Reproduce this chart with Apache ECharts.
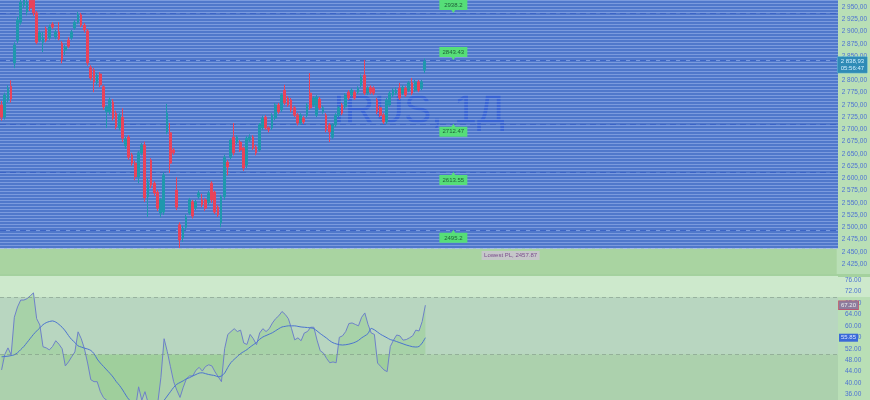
<!DOCTYPE html>
<html><head><meta charset="utf-8">
<script src="https://cdn.jsdelivr.net/npm/echarts@6/dist/echarts.min.js"></script>
<style>html,body{margin:0;padding:0;background:#b9dfb6}#c{width:870px;height:400px}</style>
</head><body><div id="c"></div><script>
const slotCount = 263;
const opens  = [2750,2725,2760,2788,2836,2882,2919,2954,2940,2964,2964,2938,2882,2878,2905,2887,2915,2889,2899,2876,2862,2882,2887,2907,2919,2934,2913,2901,2827,2821,2795,2813,2787,2736,2736,2756,2733,2703,2725,2666,2684,2648,2631,2603,2652,2668,2562,2637,2590,2572,2529,2531,2695,2693,2658,2576,2505,2478,2500,2529,2552,2539,2562,2556,2556,2550,2590,2572,2541,2509,2562,2633,2643,2684,2674,2674,2662,2627,2678,2684,2664,2658,2703,2725,2703,2703,2723,2750,2740,2780,2764,2760,2744,2729,2713,2723,2729,2774,2750,2729,2762,2736,2729,2709,2684,2709,2729,2750,2746,2776,2770,2776,2776,2790,2811,2774,2786,2784,2760,2744,2729,2715,2750,2770,2774,2784,2774,2784,2780,2795,2780,2797,2784,2821];
const closes = [2725,2770,2784,2762,2872,2923,2960,2968,2960,2948,2938,2878,2897,2887,2882,2909,2909,2899,2885,2842,2868,2870,2899,2919,2934,2913,2903,2836,2805,2797,2811,2791,2746,2746,2760,2723,2705,2729,2682,2680,2643,2631,2603,2652,2668,2560,2592,2586,2570,2539,2556,2607,2733,2631,2652,2541,2474,2498,2521,2556,2523,2552,2570,2546,2539,2570,2556,2531,2525,2562,2643,2623,2678,2652,2684,2658,2621,2682,2684,2662,2652,2709,2723,2703,2699,2729,2750,2736,2770,2754,2750,2740,2729,2713,2729,2715,2750,2744,2764,2766,2744,2744,2699,2695,2709,2729,2744,2733,2770,2764,2780,2764,2784,2807,2774,2784,2776,2774,2736,2729,2715,2760,2774,2780,2780,2764,2786,2770,2795,2774,2797,2780,2797,2838.93];
const highs  = [2758,2775,2790,2800,2878,2930,2968,2980,2966,2975,2972,2942,2902,2899,2910,2914,2919,2903,2919,2880,2872,2888,2903,2923,2940,2938,2917,2905,2831,2825,2815,2817,2790,2750,2765,2762,2738,2733,2743,2685,2688,2652,2636,2656,2672,2675,2600,2641,2594,2576,2560,2612,2752,2713,2662,2602,2510,2503,2526,2560,2556,2556,2575,2568,2560,2574,2594,2575,2545,2566,2648,2637,2682,2713,2688,2678,2665,2686,2690,2688,2668,2713,2728,2729,2706,2733,2754,2754,2774,2791,2768,2764,2748,2733,2733,2727,2754,2815,2768,2770,2766,2748,2733,2713,2713,2733,2748,2754,2774,2780,2784,2780,2788,2812,2842,2788,2790,2788,2764,2748,2733,2764,2778,2784,2786,2795,2790,2788,2799,2805,2801,2801,2801,2845];
const lows   = [2718,2720,2755,2755,2825,2876,2914,2948,2933,2942,2932,2874,2878,2858,2878,2883,2905,2884,2882,2835,2852,2866,2883,2903,2915,2909,2898,2830,2800,2776,2790,2786,2740,2703,2730,2718,2700,2698,2674,2660,2638,2626,2596,2590,2647,2552,2521,2580,2564,2533,2520,2525,2690,2611,2648,2535,2457.87,2470,2495,2525,2518,2535,2558,2541,2533,2545,2550,2527,2521,2500,2556,2606,2639,2647,2670,2654,2615,2621,2674,2658,2647,2654,2699,2699,2694,2699,2719,2732,2736,2750,2746,2735,2725,2708,2709,2711,2725,2740,2746,2725,2740,2732,2694,2674,2680,2705,2725,2729,2742,2760,2766,2760,2772,2786,2770,2770,2772,2770,2731,2725,2711,2711,2746,2766,2770,2760,2770,2766,2776,2770,2776,2776,2780,2815];
const rsiValues = [44.6,50,52.3,49.9,63,66.6,69,69,69.5,70.5,71.5,62.5,60.3,52.7,52.3,51.6,52.8,54.8,53.6,52,46,47.4,49.2,50.9,
  57.9,55.5,52,47,41.2,40.5,40.5,37,34.9,34,33,31,33,30,29,30,27,25,31,38.7,34,37,33,31,29,33,42,55.5,51,45.7,40.5,37.5,35,38.5,41.5,42.5,42.5,44.5,45.5,44.2,45.8,46.4,46,43.9,
  42.2,40.5,52,57,58,59,58,58.5,54,53.5,57,55.5,53.4,57.5,59,58,59,61,62.5,63.5,65,64,62.5,59,55.1,55.8,54.8,57.5,58,59.5,59.5,55,51.3,50.5,48.6,47.1,47.4,47.1,56,56.5,58,60.8,61,60.5,60,63,64.5,60.5,
  57.5,57,47,45.8,44.6,44,52.8,55,56.8,56.5,55,55.2,55.8,56.5,58.5,58.2,61.5,67.2];
const rsiMa = [49.2,49.3,49.4,49.6,49.9,50.6,51.7,52.8,54.2,55.6,57,58.2,59.3,60.4,61.1,61.5,61.7,61.3,60.5,59.5,58.2,56.6,55.2,54.2,
  53,52.6,52.2,51.9,51.4,50.3,48.4,47,45.8,44.6,43.4,42.1,40.5,39.2,37.6,35.8,34.2,33.2,32.5,32.2,32,31.8,31.6,31.5,31.6,32,32.8,34,35.5,37,38.5,39.6,40.2,40.8,41.5,41.9,42.5,43,43.5,43.6,43.3,43,42.8,42.6,
  42.2,42.5,43.5,45.5,47.2,48.3,49.3,50.3,51,51.7,52.6,53.4,54.2,55.3,56.1,56.6,57.1,57.6,58.3,59,59.6,59.8,60,60,60,59.8,59.6,59.5,59.4,59.3,59,58.2,57.3,56.5,55.7,54.8,54.1,53.7,53.4,53.3,53.4,53.6,53.9,54.3,54.9,55.8,56.5,57.3,
  59.1,58.6,57.8,57,56.4,55.8,55.2,54.9,54.5,54.1,53.7,53.3,53,52.7,52.6,52.8,54,55.85];
const rsiTicks = [36,40,44,48,52,56,60,64,68,72,76];
const levelPrices = [2937.7, 2841.7, 2711.3, 2613.1, 2494.7];
const levelTexts  = ['2938.2', '2843.43', '2712.47', '2613.55', '2495.2'];
const levelArrowDown = [true, true, false, false, false];
const lowestPL = 2457.87;
const lastPrice = 2838.93;
const countdown = '05:56:47';
const rsiLast = 67.20, rsiMaLast = 55.85;
const rsiUpper = 70, rsiMid = 50;
const watermark = 'IRUS, 1Д';

const fmtPrice = v => v.toFixed(2).replace('.', ',').replace(/\B(?=(\d{3})+(?!\d))/g, ' ');
const cats = Array.from({length: slotCount}, (_, i) => String(i));
const candles = opens.map((o, i) => [o, closes[i], lows[i], highs[i]]);
const FONT = 'Liberation Sans';
const axisBlue = '#4d72d3';
const NOLINE = {color: 'rgba(0,0,0,0)', width: 0};

const chart = echarts.init(document.getElementById('c'), null, {renderer: 'canvas'});
chart.setOption({
  animation: false,
  backgroundColor: '#b9dfb6',
  grid: [
    {left: 0, top: 0, width: 838, height: 276.2, show: true, backgroundColor: '#a9d4a1', borderWidth: 0, z: 0},
    {left: 0, top: 276, width: 838, bottom: 0, show: false},
    {left: 0, top: 0, width: 838, height: 248, show: true, backgroundColor: '#5078cb', borderWidth: 0, z: 1}
  ],
  xAxis: [
    {type: 'category', gridIndex: 0, data: cats, show: false, boundaryGap: true},
    {type: 'category', gridIndex: 1, data: cats, show: false, boundaryGap: true},
    {type: 'value', gridIndex: 2, min: 0, max: 1, show: false}
  ],
  yAxis: [
    {type: 'value', gridIndex: 0, position: 'right', min: 2400, max: 2964.3, interval: 25, z: 4,
     axisLine: {show: false}, axisTick: {show: false}, splitLine: {show: false},
     axisLabel: {showMinLabel: false, showMaxLabel: false, color: axisBlue, fontSize: 6.5, fontFamily: FONT, margin: 5, formatter: v => fmtPrice(v)}},
    {type: 'value', gridIndex: 1, position: 'right', min: 34.1, max: 77.4, z: 2,
     axisLine: {show: false}, axisTick: {show: false}, splitLine: {show: false},
     axisLabel: {customValues: rsiTicks, color: axisBlue, fontSize: 6.5, fontFamily: FONT, margin: 7, formatter: v => v.toFixed(2)}},
    {type: 'value', gridIndex: 2, min: 0, max: 83, interval: 1, z: 3,
     axisLine: {show: false}, axisTick: {show: false}, axisLabel: {show: false},
     splitLine: {show: true, lineStyle: {color: 'rgba(150,178,234,0.62)', width: 1}}}
  ],
  graphic: [
    {type: 'rect', shape: {x: 838, y: 276, width: 32, height: 21}, style: {fill: '#cde9cc'}, z: -1, silent: true},
    {type: 'rect', shape: {x: 0, y: 274, width: 870, height: 3}, style: {fill: '#a4d19e'}, z: 1, silent: true},
    {type: 'text', x: 419, y: 112, z: 2, silent: true,
     style: {text: watermark, fill: 'rgba(40,85,215,0.6)', fontSize: 41, fontFamily: FONT, align: 'center', verticalAlign: 'middle'}}
  ],
  series: [
    {type: 'line', xAxisIndex: 2, yAxisIndex: 2, data: [], silent: true},
    {type: 'candlestick', xAxisIndex: 0, yAxisIndex: 0, data: candles, barWidth: 2.2, z: 5, silent: true,
     itemStyle: {color: '#1f98ad', color0: '#e8435a', borderColor: '#1f98ad', borderColor0: '#e8435a', borderWidth: 1},
     markLine: {silent: true, symbol: ['none', 'none'], animation: false,
       data: levelPrices.map(p => ({yAxis: p, lineStyle: {color: '#3c64c6', type: [6, 4], width: 1}, label: {show: false}}))
         .concat([
           {yAxis: lowestPL, lineStyle: {color: '#a9bfe6', type: [4, 3], width: 1}, label: {show: false}},
           {yAxis: lastPrice, lineStyle: NOLINE, label: {show: true, position: 'end', distance: 1, offset: [0, 3.5],
             formatter: fmtPrice(lastPrice) + '\n' + countdown, backgroundColor: '#2f8bb6', borderColor: '#5fb3d6', borderWidth: 0.5,
             color: '#d2f0ff', fontSize: 6, fontFamily: FONT, lineHeight: 7, padding: [1, 3]}}
         ])},
     markPoint: {silent: true, animation: false,
       data: levelPrices.map((p, i) => ({
         coord: [142, p],
         symbol: levelArrowDown[i] ? 'path://M0,0L28,0L28,10L16,10L14,13L12,10L0,10Z' : 'path://M14,0L16,3L28,3L28,13L0,13L0,3L12,3Z',
         symbolSize: [28, 13],
         symbolOffset: [0, levelArrowDown[i] ? -6.5 : 6.5],
         itemStyle: {color: '#56de78'},
         label: {show: true, position: 'inside', formatter: levelTexts[i], color: '#1f5f38', fontSize: 6, fontFamily: FONT, offset: [0, levelArrowDown[i] ? -1.5 : 1.5]}
       })).concat([{
         coord: [160, lowestPL], symbol: 'rect', symbolSize: [58, 9], symbolOffset: [0, 7.5],
         itemStyle: {color: '#c5c7c9'},
         label: {show: true, position: 'inside', formatter: 'Lowest PL, ' + lowestPL, color: '#7b4d8c', fontSize: 6, fontFamily: FONT}
       }])}
    },
    {type: 'line', xAxisIndex: 1, yAxisIndex: 1, data: rsiValues, symbol: 'none', silent: true, z: 1,
     lineStyle: {opacity: 0},
     markArea: {silent: true, data: [
       [{yAxis: rsiUpper, itemStyle: {color: '#cde9cc'}}, {yAxis: 77.4}],
       [{yAxis: rsiMid, itemStyle: {color: '#b8d6c0'}}, {yAxis: rsiUpper}],
       [{yAxis: 34.1, itemStyle: {color: '#acd1ad'}}, {yAxis: rsiMid}]
     ]}},
    {type: 'line', xAxisIndex: 1, yAxisIndex: 1, data: rsiValues, symbol: 'none', silent: true, z: 3,
     lineStyle: {color: '#6e80c9', width: 1},
     areaStyle: {origin: rsiMid, color: 'rgba(135,205,125,0.5)'},
     markLine: {silent: true, symbol: ['none', 'none'], animation: false, data: [
       {yAxis: rsiLast, lineStyle: NOLINE, label: {show: true, position: 'end', distance: 1, formatter: rsiLast.toFixed(2),
         backgroundColor: '#8d7d9e', borderColor: '#c0506a', borderWidth: 0.8, color: '#eeeeee', fontSize: 6, fontFamily: FONT, padding: [1, 2]}}
     ]}},
    {type: 'line', xAxisIndex: 1, yAxisIndex: 1, data: rsiMa, symbol: 'none', silent: true, z: 4, smooth: 0.3,
     lineStyle: {color: '#4b73cf', width: 1},
     markLine: {silent: true, symbol: ['none', 'none'], animation: false, data: [
       {yAxis: rsiUpper, lineStyle: {color: 'rgba(110,130,120,0.45)', type: [4, 3], width: 1}, label: {show: false}},
       {yAxis: rsiMid, lineStyle: {color: 'rgba(110,130,120,0.45)', type: [4, 3], width: 1}, label: {show: false}},
       {yAxis: rsiMaLast, lineStyle: NOLINE, label: {show: true, position: 'end', distance: 1, formatter: rsiMaLast.toFixed(2),
         backgroundColor: '#3a6ad8', color: '#dde6ff', fontSize: 6, fontFamily: FONT, padding: [1, 2]}}
     ]}}
  ]
});
</script></body></html>
